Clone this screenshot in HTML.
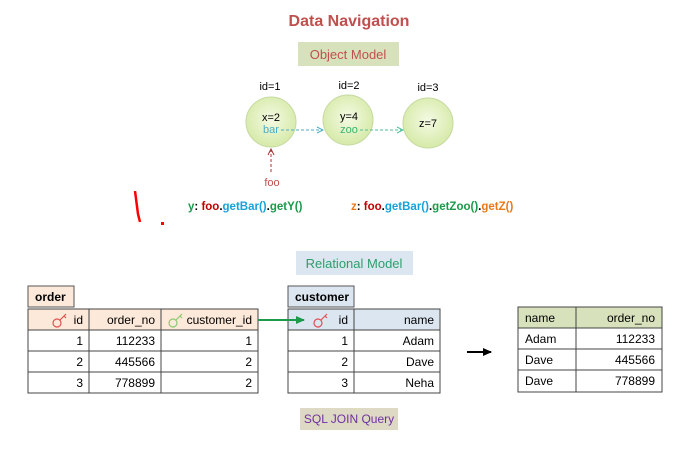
<!DOCTYPE html>
<html><head><style>body{margin:0;background:#fff}svg{display:block}text{font-family:"Liberation Sans",sans-serif}</style></head><body>
<svg width="676" height="456" viewBox="0 0 676 456" xmlns="http://www.w3.org/2000/svg">
<defs>
<radialGradient id="g" cx="50%" cy="45%" r="55%"><stop offset="0" stop-color="#f4fae4"/><stop offset="1" stop-color="#d6eaa8"/></radialGradient>
<marker id="ab" markerUnits="userSpaceOnUse" markerWidth="8" markerHeight="8" refX="7" refY="4" orient="auto"><path d="M1,1 L7,4 L1,7" fill="none" stroke="#4bacc6" stroke-width="1"/></marker>
<marker id="ag" markerUnits="userSpaceOnUse" markerWidth="8" markerHeight="8" refX="7" refY="4" orient="auto"><path d="M1,1 L7,4 L1,7" fill="none" stroke="#4bbf9a" stroke-width="1"/></marker>
<marker id="ar" markerUnits="userSpaceOnUse" markerWidth="8" markerHeight="8" refX="7" refY="4" orient="auto"><path d="M1,1 L7,4 L1,7" fill="none" stroke="#a33" stroke-width="1"/></marker>
<marker id="agr" markerUnits="userSpaceOnUse" markerWidth="10" markerHeight="10" refX="8" refY="5" orient="auto"><path d="M0,1 L9,5 L0,9z" fill="#1a9a4a"/></marker>
<marker id="ak" markerUnits="userSpaceOnUse" markerWidth="10" markerHeight="10" refX="8" refY="5" orient="auto"><path d="M0,1 L9,5 L0,9z" fill="#000"/></marker>
</defs>
<text x="349" y="26" text-anchor="middle" font-size="16" font-weight="bold" fill="#c0504d">Data Navigation</text>
<rect x="298" y="42" width="101" height="24" fill="#d7e2bd"/>
<text x="348" y="59" text-anchor="middle" font-size="13" fill="#c0504d">Object Model</text>
<text x="270" y="90" text-anchor="middle" font-size="11">id=1</text>
<text x="349" y="89" text-anchor="middle" font-size="11">id=2</text>
<text x="428" y="91" text-anchor="middle" font-size="11">id=3</text>
<circle cx="271" cy="122" r="25" fill="url(#g)" stroke="#c5d9a0"/>
<circle cx="348" cy="120" r="25" fill="url(#g)" stroke="#c5d9a0"/>
<circle cx="428" cy="123" r="25" fill="url(#g)" stroke="#c5d9a0"/>
<text x="271" y="121" text-anchor="middle" font-size="11">x=2</text>
<text x="271" y="133" text-anchor="middle" font-size="11" fill="#4bacc6">bar</text>
<text x="349" y="120" text-anchor="middle" font-size="11">y=4</text>
<text x="349" y="133" text-anchor="middle" font-size="11" fill="#3cb371">zoo</text>
<text x="428" y="127" text-anchor="middle" font-size="11">z=7</text>
<line x1="281" y1="130" x2="323" y2="130" stroke="#4bacc6" stroke-dasharray="3,2" marker-end="url(#ab)"/>
<line x1="360" y1="130" x2="403" y2="130" stroke="#4bbf9a" stroke-dasharray="3,2" marker-end="url(#ag)"/>
<line x1="271" y1="172" x2="271" y2="149" stroke="#a33" stroke-dasharray="3,2" marker-end="url(#ar)"/>
<text x="272" y="186" text-anchor="middle" font-size="11" fill="#c0504d">foo</text>
<text x="188" y="210" font-size="11.5" font-weight="bold"><tspan fill="#1a9a4a">y</tspan><tspan fill="#000">: </tspan><tspan fill="#c00000">foo</tspan><tspan fill="#000">.</tspan><tspan fill="#17a2d8">getBar()</tspan><tspan fill="#000">.</tspan><tspan fill="#1a9a4a">getY()</tspan></text>
<text x="351" y="210" font-size="11.5" font-weight="bold"><tspan fill="#e87a1a">z</tspan><tspan fill="#000">: </tspan><tspan fill="#c00000">foo</tspan><tspan fill="#000">.</tspan><tspan fill="#17a2d8">getBar()</tspan><tspan fill="#000">.</tspan><tspan fill="#1a9a4a">getZoo()</tspan><tspan fill="#000">.</tspan><tspan fill="#e87a1a">getZ()</tspan></text>
<path d="M135,191 L138,214 L140,222" stroke="#f00" stroke-width="2.5" fill="none"/>
<rect x="161" y="222" width="3" height="3" fill="#f00"/>
<rect x="296" y="251" width="117" height="24" fill="#dce6f1"/>
<text x="354" y="268" text-anchor="middle" font-size="13" fill="#2e9e6a">Relational Model</text>
<!-- order -->
<rect x="28" y="286" width="46" height="21" fill="#fde9d9" stroke="#555"/>
<text x="35" y="301" font-size="12" font-weight="bold">order</text>
<g stroke="#444" stroke-width="1">
<rect x="28" y="309" width="230" height="84" fill="#fff"/>
<rect x="28" y="309" width="230" height="21" fill="#fde9d9"/>
<line x1="28" y1="351" x2="258" y2="351"/><line x1="28" y1="372" x2="258" y2="372"/>
<line x1="89" y1="309" x2="89" y2="393"/><line x1="161" y1="309" x2="161" y2="393"/>
</g>
<g font-size="12" text-anchor="end">
<text x="83" y="324">id</text><text x="155" y="324">order_no</text><text x="252" y="324">customer_id</text>
<text x="83" y="345">1</text><text x="155" y="345">112233</text><text x="252" y="345">1</text>
<text x="83" y="366">2</text><text x="155" y="366">445566</text><text x="252" y="366">2</text>
<text x="83" y="387">3</text><text x="155" y="387">778899</text><text x="252" y="387">2</text>
</g>
<g fill="none" stroke="#e05050" stroke-width="1.2"><circle cx="57" cy="323" r="4"/><path d="M60,320 L66,314 M64,316 L66,318"/></g>
<g fill="none" stroke="#8cc870" stroke-width="1.2"><circle cx="173" cy="323" r="4"/><path d="M176,320 L182,314 M180,316 L182,318"/></g>
<!-- customer -->
<rect x="288" y="286" width="66" height="21" fill="#dce6f1" stroke="#555"/>
<text x="295" y="301" font-size="12" font-weight="bold">customer</text>
<g stroke="#444">
<rect x="288" y="309" width="152" height="84" fill="#fff"/>
<rect x="288" y="309" width="152" height="21" fill="#dce6f1"/>
<line x1="288" y1="351" x2="440" y2="351"/><line x1="288" y1="372" x2="440" y2="372"/>
<line x1="354" y1="309" x2="354" y2="393"/>
</g>
<g font-size="12" text-anchor="end">
<text x="348" y="324">id</text><text x="434" y="324">name</text>
<text x="348" y="345">1</text><text x="434" y="345">Adam</text>
<text x="348" y="366">2</text><text x="434" y="366">Dave</text>
<text x="348" y="387">3</text><text x="434" y="387">Neha</text>
</g>
<g fill="none" stroke="#e05050" stroke-width="1.2"><circle cx="318" cy="323" r="4"/><path d="M321,320 L327,314 M325,316 L327,318"/></g>
<line x1="258" y1="320" x2="304" y2="320" stroke="#1a9a4a" stroke-width="2" marker-end="url(#agr)"/>
<line x1="467" y1="352" x2="491" y2="352" stroke="#000" stroke-width="2" marker-end="url(#ak)"/>
<!-- result -->
<g stroke="#444">
<rect x="518" y="307" width="144" height="85" fill="#fff"/>
<rect x="518" y="307" width="144" height="21" fill="#d7e2bd"/>
<line x1="518" y1="349" x2="662" y2="349"/><line x1="518" y1="370" x2="662" y2="370"/>
<line x1="576" y1="307" x2="576" y2="392"/>
</g>
<g font-size="12">
<text x="525" y="322">name</text><text x="655" y="322" text-anchor="end">order_no</text>
<text x="525" y="343">Adam</text><text x="655" y="343" text-anchor="end">112233</text>
<text x="525" y="364">Dave</text><text x="655" y="364" text-anchor="end">445566</text>
<text x="525" y="385">Dave</text><text x="655" y="385" text-anchor="end">778899</text>
</g>
<rect x="300" y="408" width="98" height="22" fill="#ddd9c4"/>
<text x="349" y="423" text-anchor="middle" font-size="12" fill="#7030a0">SQL JOIN Query</text>
</svg>
</body></html>
